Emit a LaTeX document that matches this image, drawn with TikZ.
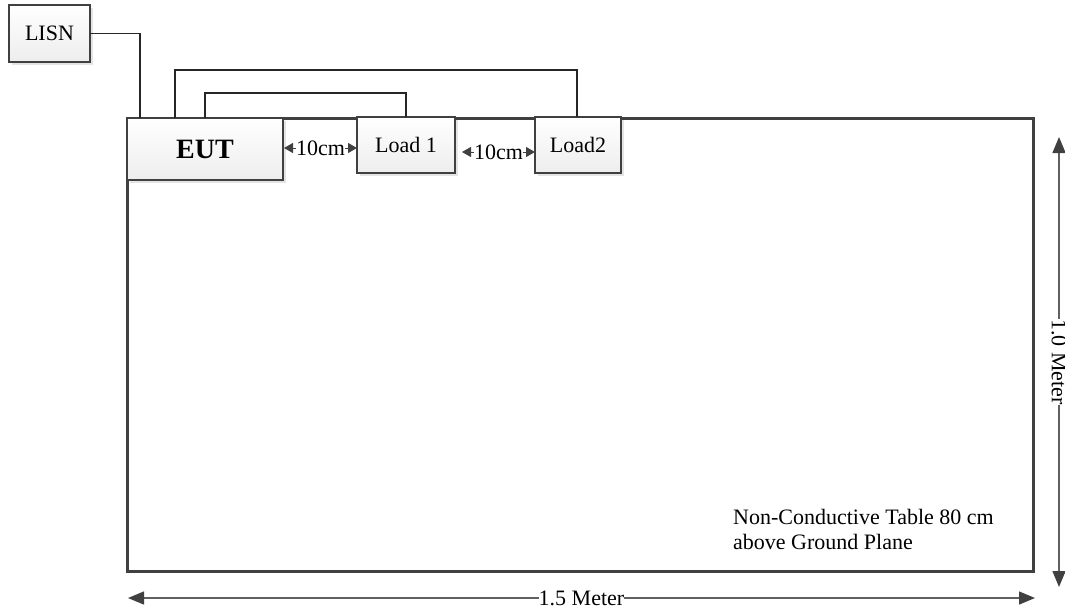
\documentclass[tikz,border=0pt]{standalone}
\usepackage{fontspec}
\setmainfont{Liberation Serif}
\usetikzlibrary{shadows,arrows.meta}
\definecolor{edge}{HTML}{404040}
\tikzset{
  box/.style={draw=edge, line width=2.4pt, top color=white, bottom color=gray!14,
    drop shadow={fill=gray!35, shadow xshift=3pt, shadow yshift=-3pt, opacity=0.6},
    inner sep=0pt, outer sep=0pt, anchor=north west,
    font=\fontsize{22}{26}\selectfont},
  wire/.style={draw=black!85, line width=1.3pt},
  dim/.style={draw=gray!75!black, line width=1.4pt,
    {Triangle[length=16pt,width=13pt,color=edge]}-{Triangle[length=16pt,width=13pt,color=edge]}},
  gap/.style={draw=edge, line width=1pt,
    {Triangle[length=9pt,width=10pt,color=edge]}-{Triangle[length=9pt,width=10pt,color=edge]}},
  lbl/.style={fill=white, inner sep=1pt, font=\fontsize{22}{26}\selectfont}
}
\begin{document}
\begin{tikzpicture}[x=1pt,y=-1pt]
\useasboundingbox (0,0) rectangle (1065,611);
% table
\node[draw=edge, line width=3pt, fill=white, inner sep=0pt, outer sep=0pt,
  minimum width=906pt, minimum height=453pt, anchor=north west,
  drop shadow={fill=gray!30, shadow xshift=2pt, shadow yshift=-2pt, opacity=0.6}] (table) at (127,118) {};
% wire corner points
\coordinate (w1a) at (175,118);
\coordinate (w1b) at (175,70);
\coordinate (w1c) at (577,70);
\coordinate (w1d) at (577,118);
\coordinate (w2a) at (205,118);
\coordinate (w2b) at (205,93);
\coordinate (w2c) at (406,93);
\coordinate (w2d) at (406,118);
% boxes
\node[box, minimum width=81pt, minimum height=57pt] (lisn) at (9,5) {LISN};
\node[box, minimum width=156pt, minimum height=62pt, font=\fontsize{28}{32}\selectfont\bfseries] (eut) at (127,118) {EUT};
\node[box, minimum width=98pt, minimum height=56pt] (load1) at (357,117) {Load 1};
\node[box, minimum width=86pt, minimum height=56pt] (load2) at (535,117) {Load2};
% wires
\draw[wire] (w1a) -- (w1b) -- (w1c) -- (load2.north -| w1d);
\draw[wire] (w2a) -- (w2b) -- (w2c) -- (load1.north -| w2d);
\draw[wire] (lisn.east) -| (eut.north west -| 140,0);
% spacing arrows
\coordinate (g1a) at (284,148);
\coordinate (g1b) at (357,148);
\coordinate (g2a) at (462,152);
\coordinate (g2b) at (535,152);
\draw[gap] (g1a) -- node[lbl, inner sep=0pt] {10cm} (g1b);
\draw[gap] (g2a) -- node[lbl, inner sep=0pt] {10cm} (g2b);
% table note
\node[anchor=base west, align=left, inner sep=0pt, font=\fontsize{22}{24.5}\selectfont] (note) at (733,549)
  {Non-Conductive Table 80 cm\\above Ground Plane};
% dimensions
\coordinate (vt) at (1059,137);
\coordinate (vb) at (1059,587);
\coordinate (hl) at (128,598);
\coordinate (hr) at (1035,598);
\draw[dim] (vt) -- node[lbl, rotate=-90, inner sep=0pt] {1.0 Meter} (vb);
\draw[dim] (hl) -- node[lbl, inner sep=0pt] {1.5 Meter} (hr);
\end{tikzpicture}
\end{document}
